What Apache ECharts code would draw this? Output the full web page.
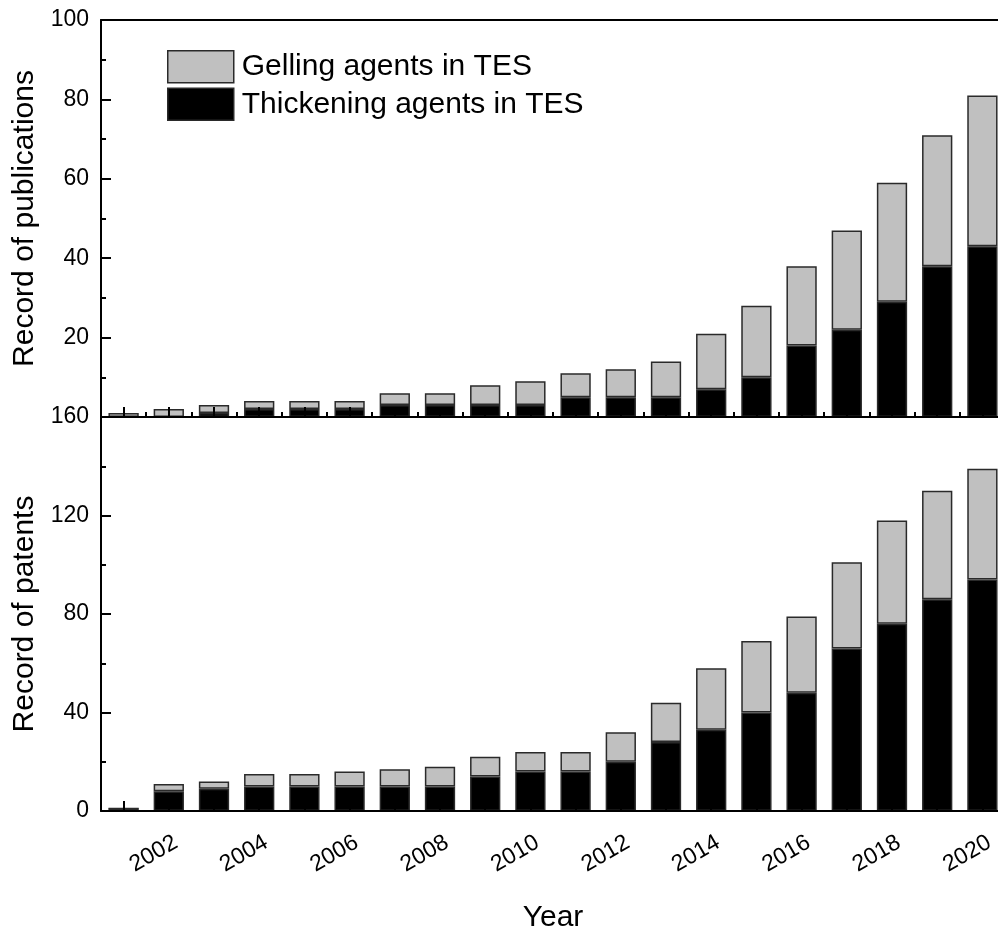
<!DOCTYPE html>
<html>
<head>
<meta charset="utf-8">
<script src="https://cdn.jsdelivr.net/npm/echarts@6/dist/echarts.min.js"></script>
<style>
html,body{margin:0;padding:0;background:#fff;overflow:hidden;width:998px;height:934px;}
#chart{width:1010px;height:934px;}
</style>
</head>
<body>
<div id="chart"></div>
<script>
var years = ['2001','2002','2003','2004','2005','2006','2007','2008','2009','2010','2011','2012','2013','2014','2015','2016','2017','2018','2019','2020'];
// Publications
var pubThickening = [0,0,1,2,2,2,3,3,3,3,5,5,5,7,10,18,22,29,38,43];
var pubTotal      = [1,2,3,4,4,4,6,6,8,9,11,12,14,21,28,38,47,59,71,81];
// Patents
var patThickening = [1,8,9,10,10,10,10,10,14,16,16,20,28,33,40,48,66,76,86,94];
var patTotal      = [1,11,12,15,15,16,17,18,22,24,24,32,44,58,69,79,101,118,130,139];

var pubGelling = pubTotal.map(function(t,i){return t - pubThickening[i];});
var patGelling = patTotal.map(function(t,i){return t - patThickening[i];});

var FONT = 'Liberation Sans, Arial, sans-serif';
var GRAY = '#c0c0c0';
var EDGE = '#2a2a2a';

var chart = echarts.init(document.getElementById('chart'), null, {renderer:'canvas', width:1010, height:934});

function centerAxis(grid, showLabels, name) {
  return {
    type:'category', gridIndex:grid, data:years, position:'bottom',
    boundaryGap:true, z:5,
    axisLine:{show:true, lineStyle:{color:'#000', width:2}},
    axisTick:{show:true, inside:true, length:10, alignWithLabel:true, interval:0, lineStyle:{color:'#000', width:2}},
    axisLabel:{show:showLabels, rotate:30, margin:34, align:'center', verticalAlign:'middle', padding:[0,35,0,0],
      fontFamily:FONT, fontSize:23, color:'#000', hideOverlap:false,
      interval:0, formatter:function(v){ return (parseInt(v,10)%2===0)? v : ''; }},
    name: name || '', nameLocation:'middle', nameGap:92,
    nameTextStyle:{fontFamily:FONT, fontSize:30, color:'#000'},
    splitLine:{show:false}
  };
}

var option = {
  animation:false,
  backgroundColor:'#fff',
  textStyle:{fontFamily:FONT},
  grid:[
    {left:101, width:904, top:20, height:397, containLabel:false},
    {left:101, width:904, top:417, height:396, containLabel:false}
  ],
  legend:{
    show:true, orient:'vertical', left:167, top:50, padding:0, itemWidth:66, itemHeight:32, itemGap:4,
    icon:'rect',
    textStyle:{fontFamily:FONT, fontSize:30, color:'#000', padding:[0,0,0,3]},
    data:[
      {name:'Gelling agents in TES', icon:'rect', itemStyle:{color:GRAY, borderColor:EDGE, borderWidth:1.5}},
      {name:'Thickening agents in TES', icon:'rect', itemStyle:{color:'#000', borderColor:EDGE, borderWidth:1.5}}
    ]
  },
  xAxis:[
    centerAxis(0, false),
    {type:'category', gridIndex:0, data:years, position:'bottom', boundaryGap:true, z:5,
     axisLine:{show:false}, axisLabel:{show:false},
     axisTick:{show:true, inside:true, length:5, alignWithLabel:false, interval:0, lineStyle:{color:'#000', width:2}},
     splitLine:{show:false}},
    {type:'category', gridIndex:0, data:years, position:'top', boundaryGap:true,
     axisLine:{show:true, lineStyle:{color:'#000', width:2}}, axisTick:{show:false}, axisLabel:{show:false},
     splitLine:{show:false}},
    centerAxis(1, true, 'Year')
  ],
  yAxis:[
    {type:'value', gridIndex:0, min:0, max:100, interval:20,
     axisLine:{show:true, lineStyle:{color:'#000', width:2}},
     axisTick:{show:true, inside:true, length:10, lineStyle:{color:'#000', width:2}},
     minorTick:{show:true, splitNumber:2, length:5, lineStyle:{color:'#000', width:2}},
     axisLabel:{fontFamily:FONT, fontSize:23, color:'#000', margin:12, showMinLabel:false},
     splitLine:{show:false},
     name:'Record of publications', nameLocation:'middle', nameGap:60,
     nameTextStyle:{fontFamily:FONT, fontSize:30, color:'#000'}},
    {type:'value', gridIndex:1, min:0, max:160, interval:40,
     axisLine:{show:true, lineStyle:{color:'#000', width:2}},
     axisTick:{show:true, inside:true, length:10, lineStyle:{color:'#000', width:2}},
     minorTick:{show:true, splitNumber:2, length:5, lineStyle:{color:'#000', width:2}},
     axisLabel:{fontFamily:FONT, fontSize:23, color:'#000', margin:12},
     splitLine:{show:false},
     name:'Record of patents', nameLocation:'middle', nameGap:60,
     nameTextStyle:{fontFamily:FONT, fontSize:30, color:'#000'}}
  ],
  series:[
    {name:'Thickening agents in TES', type:'bar', stack:'pub', xAxisIndex:0, yAxisIndex:0, data:pubThickening,
     barWidth:'67%', itemStyle:{color:'#000', borderColor:EDGE, borderWidth:1.5}, z:2},
    {name:'Gelling agents in TES', type:'bar', stack:'pub', xAxisIndex:0, yAxisIndex:0, data:pubGelling,
     barWidth:'67%', itemStyle:{color:GRAY, borderColor:EDGE, borderWidth:1.5}, z:2},
    {name:'Thickening agents in TES', type:'bar', stack:'pat', xAxisIndex:3, yAxisIndex:1, data:patThickening,
     barWidth:'67%', itemStyle:{color:'#000', borderColor:EDGE, borderWidth:1.5}, z:2},
    {name:'Gelling agents in TES', type:'bar', stack:'pat', xAxisIndex:3, yAxisIndex:1, data:patGelling,
     barWidth:'67%', itemStyle:{color:GRAY, borderColor:EDGE, borderWidth:1.5}, z:2}
  ]
};
chart.setOption(option);
</script>
</body>
</html>
